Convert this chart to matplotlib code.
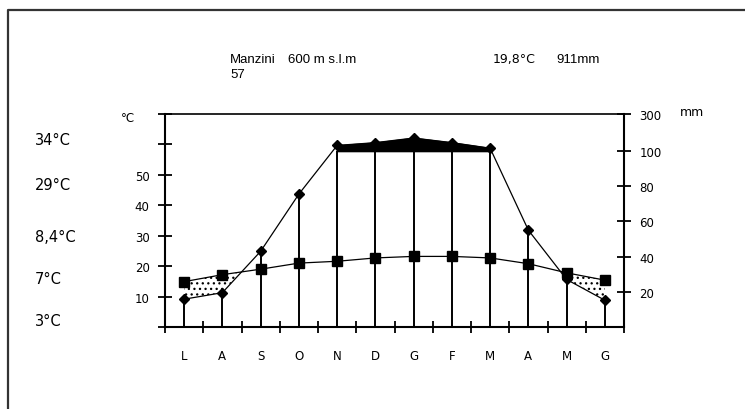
import numpy as np
import matplotlib
matplotlib.use("Agg")
import matplotlib.pyplot as plt
from matplotlib.lines import Line2D

plt.rcParams['font.family'] = ['DejaVu Sans']
plt.rcParams['hatch.linewidth'] = 0.9

# ---- data ----
months = ["L", "A", "S", "O", "N", "D", "G", "F", "M", "A", "M", "G"]
temperature = [14.9, 17.2, 19.0, 21.0, 21.6, 22.7, 23.2, 23.2, 22.7, 20.8, 17.8, 15.4]
precipitation = [15.8, 19.5, 43.0, 75.5, 130.0, 145.0, 170.0, 145.0, 115.0, 55.0, 27.0, 15.2]
temp_ticks = [10, 20, 30, 40, 50]
prec_ticks = [20, 40, 60, 80, 100, 300]
side_labels = ["34°C", "29°C", "8,4°C", "7°C", "3°C"]
station = "Manzini"
years = "57"
altitude = "600 m s.l.m"
mean_temp = "19,8°C"
total_prec = "911mm"

W, H = 745, 410
fig = plt.figure(figsize=(W / 100, H / 100), dpi=100)

def fx(px):
    return px / W

def fy(py):
    return 1 - py / H

L, R, T, B = 165, 624, 115, 328
ax = fig.add_axes([fx(L), fy(B), fx(R) - fx(L), fy(T) - fy(B)])
ax2 = ax.twinx()
ax2.set_position(ax.get_position())

K = 0.105
def fwd(m):
    m = np.asarray(m, dtype=float)
    return np.where(m <= 100, m, 100 + (m - 100) * K)

def inv(u):
    u = np.asarray(u, dtype=float)
    return np.where(u <= 100, u, 100 + (u - 100) / K)

ax.set_xlim(0, 12)
ax.set_ylim(0, 70)
ax2.set_yscale('function', functions=(fwd, inv))
ax2.set_ylim(0, 300)

x = np.arange(12) + 0.5
t = np.array(temperature)
p = np.array(precipitation)

for a in (ax, ax2):
    for s in a.spines.values():
        s.set_visible(False)
    a.patch.set_visible(False)

# frame lines
ax.plot([0, 0], [0, 70], color='black', lw=1.5, clip_on=False, zorder=3)
ax.plot([0, 12], [0, 0], color='black', lw=1.5, clip_on=False, zorder=3)
ax.plot([0, 12], [70, 70], color='black', lw=1.2, clip_on=False, zorder=3)
ax.plot([12, 12], [0, 70], color='black', lw=1.5, clip_on=False, zorder=3)

# ticks
ax.set_yticks([0, 10, 20, 30, 40, 50, 60, 70])
ax.set_yticklabels([""] + [str(v) for v in temp_ticks] + ["", ""])
ax.tick_params(axis='y', direction='inout', length=10, width=1.3, pad=6, labelsize=8.5)
ax.set_xticks(np.arange(13))
ax.set_xticklabels([])
ax.tick_params(axis='x', which='major', direction='inout', length=9, width=1.3)
ax.set_xticks(x, minor=True)
ax.set_xticklabels(months, minor=True, fontsize=8.5)
ax.tick_params(axis='x', which='minor', length=0, pad=16)

ax2.set_yticks(prec_ticks)
ax2.set_yticklabels([str(v) for v in prec_ticks])
ax2.yaxis.set_minor_locator(matplotlib.ticker.NullLocator())
ax2.tick_params(axis='y', direction='inout', length=10, width=1.3, pad=6, labelsize=8.5)

# transform precipitation into temperature-axis units for combined fills
disp = ax2.transData.transform(np.column_stack([x, p]))
p_t = ax.transData.inverted().transform(disp)[:, 1]
cap_t = ax.transData.inverted().transform(ax2.transData.transform([[0, 100]]))[0, 1]

# dry period stipple
ax.fill_between(x, t, p_t, where=p_t <= t + 1e-9, interpolate=True,
                facecolor='white', edgecolor='black', hatch='...', linewidth=0, zorder=1)

# drop lines to precipitation
ax.vlines(x, 0, np.minimum(p_t, cap_t), color='black', lw=1.4, zorder=2)

# wet (>100mm) black fill
wet = p >= 100
ax2.fill_between(x[wet], 100, p[wet], color='black', lw=1.2, zorder=2)

# curves
ax.plot(x, t, color='black', lw=0.9, marker='s', ms=7, zorder=4)
ax2.plot(x, p, color='black', lw=0.9, marker='D', ms=5.5, zorder=4)

# texts
hdr = dict(fontsize=9.5, va='center', family=['Liberation Sans', 'DejaVu Sans'])
fig.text(fx(230), fy(60), station, **hdr)
fig.text(fx(230), fy(75), years, **hdr)
fig.text(fx(288), fy(60), altitude, **hdr)
fig.text(fx(493), fy(60), mean_temp, fontsize=9, va='center')
fig.text(fx(556), fy(60), total_prec, **hdr)
fig.text(fx(121), fy(119), "°C", fontsize=8.5, va='center')
fig.text(fx(680), fy(113), "mm", fontsize=9, va='center')
for lab, py in zip(side_labels, [141, 186, 238, 279, 322]):
    fig.text(fx(35), fy(py), lab, fontsize=10.5, va='center')

# outer frame
fig.add_artist(Line2D([fx(8), fx(8), 1], [0, fy(11), fy(11)], color='#333333', lw=1.6))

fig.savefig("out.png", dpi=100)
